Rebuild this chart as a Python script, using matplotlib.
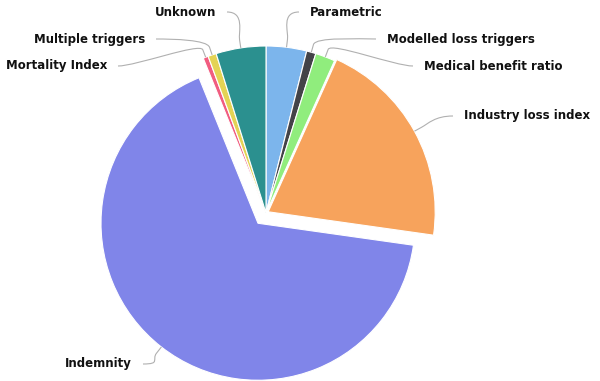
import numpy as np
import matplotlib.pyplot as plt
from matplotlib.path import Path
from matplotlib.patches import PathPatch

# share of each trigger type (%), clockwise from 12 o'clock
labels = ['Parametric', 'Modelled loss triggers', 'Medical benefit ratio',
          'Industry loss index', 'Indemnity', 'Mortality Index',
          'Multiple triggers', 'Unknown']
shares = [3.9, 0.9, 1.9, 20.4, 66.3, 0.5, 0.8, 4.8]
colors = ['#7cb5ec', '#434348', '#90ed7d', '#f7a35c',
          '#8085e9', '#f15c80', '#e4d354', '#2b908f']
# slice offsets in pixels (pie explode is in data units here)
explode = [0, 0, 0, 2.5, 13, 0, 0, 0]

# label anchors in pixels (layout only)
label_px = [(310, 12), (387, 39), (424, 66), (464, 116),
            (132, 364), (107, 66), (145, 39), (216, 12)]
label_ha = ['left', 'left', 'left', 'left', 'right', 'right', 'right', 'right']

W, H = 600, 381
fig = plt.figure(figsize=(6, 3.81), dpi=100)
ax = fig.add_axes([0, 0, 1, 1])

cx, cy, R = 266, 213, 167
wedges, _ = ax.pie(shares, colors=colors, explode=explode, radius=R,
                   center=(cx, cy), startangle=-90, counterclock=True,
                   wedgeprops=dict(edgecolor='white', linewidth=0.8))
# the sliced indemnity wedge is drawn a bit smaller, like the reference
wedges[4].set_radius(157)

ax.set_xlim(0, W)
ax.set_ylim(H, 0)
ax.set_aspect('equal')
ax.axis('off')

for w, lab, (lx, ly), ha in zip(wedges, labels, label_px, label_ha):
    t = np.deg2rad((w.theta1 + w.theta2) / 2)
    d = np.array([np.cos(t), np.sin(t)])
    c = np.array(w.center)
    p0 = c + w.r * d
    p1 = p0 + 8 * d
    sign = -1 if ha == 'left' else 1
    p3 = np.array([lx + sign * 11, ly])
    c1 = p1 + 8 * d
    c2 = p3 + np.array([sign * 18, 0])
    path = Path([p0, p1, c1, c2, p3],
                [Path.MOVETO, Path.LINETO, Path.CURVE4, Path.CURVE4, Path.CURVE4])
    ax.add_patch(PathPatch(path, fill=False, edgecolor='#b0b0b0', lw=0.8))
    ax.text(lx, ly, lab, ha=ha, va='center', fontsize=8.5,
            fontweight='bold', color='#111111', family='DejaVu Sans')

fig.savefig('out.png', dpi=100)
